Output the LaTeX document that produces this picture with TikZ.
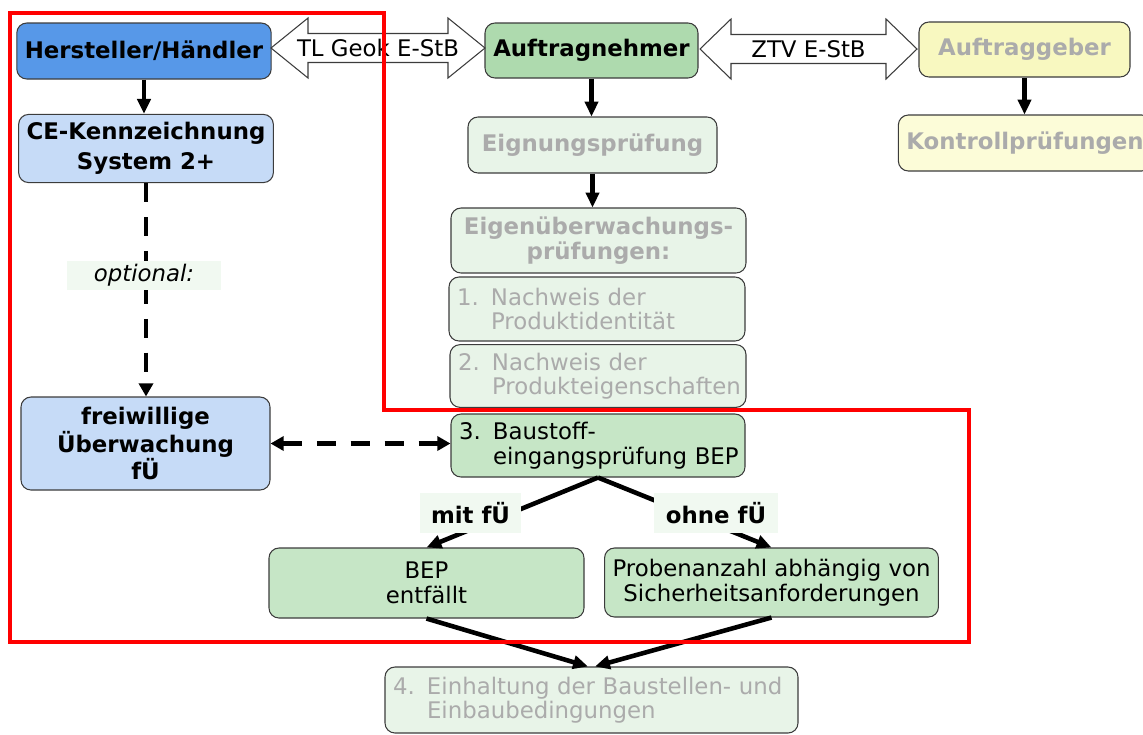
\documentclass[tikz,border=0pt]{standalone}
\usepackage{fontspec}
\setmainfont{DejaVu Sans}
\usetikzlibrary{arrows.meta,calc}
\definecolor{herstellerblau}{HTML}{5798E8}
\definecolor{hellblau}{HTML}{C6DBF7}
\definecolor{gruen}{HTML}{AEDAAE}
\definecolor{mittelgruen}{HTML}{C6E6C6}
\definecolor{blassgruen}{HTML}{E8F4E8}
\definecolor{gelb}{HTML}{F8F8C0}
\definecolor{blassgelb}{HTML}{FCFCD8}
\definecolor{labelgruen}{HTML}{F1F9F1}
\definecolor{grautext}{HTML}{ABABAB}
\definecolor{rahmen}{HTML}{3C3C3C}

\newcommand{\schrift}{\fontsize{13pt}{14pt}\selectfont}
\newcommand{\punkt}[3]{\mbox{\makebox[0.68cm][l]{#1}#2}\\\mbox{\hspace*{0.68cm}#3}}
% Doppelpfeil: Name, Mitte, halbe Laenge, Spitzenlaenge, Text
\newcommand{\doppelpfeil}[5]{%
  \draw[blockpfeil] ($(#2)+(-#3,0)$) -- ++(#4,0.6) -- ++(0,-0.31)
    -- ($(#2)+(#3-#4,0.29)$) -- ++(0,0.31) -- ($(#2)+(#3,0)$)
    -- ++(-#4,-0.6) -- ++(0,0.31) -- ($(#2)+(#4-#3,-0.29)$) -- ++(0,-0.31) -- cycle;
  \node[font=\schrift] (#1) at (#2) {#5};}

\tikzset{
  kasten/.style={draw=rahmen, line width=0.6pt, rounded corners=0.2cm, inner sep=0.16cm, align=center, font=\schrift},
  fett/.style={font=\schrift\bfseries},
  grau/.style={text=grautext},
  marke/.style={fill=labelgruen, inner sep=0pt},
  blockpfeil/.style={draw=rahmen, fill=white, line width=0.6pt},
  pfeil/.style={line width=2.6pt, -{Triangle[width=7.5pt,length=8.5pt]}},
  strichpfeil/.style={line width=2.6pt, dash pattern=on 10.8pt off 8.5pt, -{Triangle[width=8pt,length=7.5pt]}},
  strichdoppel/.style={line width=2.6pt, dash pattern=on 10.8pt off 8.5pt, {Triangle[width=8pt,length=7.5pt]}-{Triangle[width=8pt,length=7.5pt]}},
  rot/.style={draw=red, line width=2.3pt}
}

\begin{document}
\begin{tikzpicture}
\useasboundingbox (0,0) rectangle (22.86,-14.68);
% linke Spalte
\node[kasten, fett, fill=herstellerblau, minimum width=4.96cm, minimum height=1.12cm] (hersteller) at (2.88,-1.02) {Hersteller/Händler};
\node[kasten, fill=hellblau, font=\fontsize{13pt}{17pt}\selectfont\bfseries, minimum width=4.96cm, minimum height=1.30cm] (ce) at (2.92,-2.97) {CE-Kennzeichnung\\System 2+};
\node[kasten, fett, fill=hellblau, minimum width=4.98cm, minimum height=1.86cm] (freiwillig) at (2.91,-8.87) {freiwillige\\Überwachung\\fÜ};
% mittlere Spalte
\node[kasten, fett, fill=gruen, minimum width=4.26cm, minimum height=1.10cm] (auftragnehmer) at (11.83,-1.01) {Auftragnehmer};
\node[kasten, fett, grau, fill=blassgruen, minimum width=4.98cm, minimum height=1.12cm] (eignung) at (11.85,-2.90) {Eignungsprüfung};
\node[kasten, fett, grau, fill=blassgruen, minimum width=5.90cm, minimum height=1.30cm] (eigen) at (11.97,-4.81) {Eigenüberwachungs-\\prüfungen:};
\node[kasten, grau, fill=blassgruen, align=left, text width=5.60cm, minimum height=1.28cm] (nachweisA) at (11.94,-6.18) {\punkt{1.}{Nachweis der}{Produktidentität}};
\node[kasten, grau, fill=blassgruen, align=left, text width=5.60cm, minimum height=1.24cm] (nachweisB) at (11.96,-7.52) {\punkt{2.}{Nachweis der}{Produkteigenschaften}};
\node[kasten, fill=mittelgruen, align=left, text width=5.56cm, minimum height=1.26cm] (bep) at (11.96,-8.91) {\punkt{3.}{Baustoff-}{eingangsprüfung BEP}};
\node[kasten, fill=mittelgruen, minimum width=6.30cm, minimum height=1.40cm] (entfaellt) at (8.53,-11.66) {BEP\\entfällt};
\node[kasten, fill=mittelgruen, minimum width=6.58cm, minimum height=1.38cm] (probe) at (15.43,-11.65) {Probenanzahl abhängig von\\Sicherheitsanforderungen};
\node[kasten, grau, fill=blassgruen, align=left, text width=7.94cm, minimum height=1.32cm] (einhaltung) at (11.83,-14.00) {\punkt{4.}{Einhaltung der Baustellen- und}{Einbaubedingungen}};
% rechte Spalte
\node[kasten, fett, grau, fill=gelb, minimum width=4.22cm, minimum height=1.10cm] (auftraggeber) at (20.49,-0.99) {Auftraggeber};
\node[kasten, fett, grau, fill=blassgelb, minimum width=4.96cm, minimum height=1.12cm] (kontroll) at (20.50,-2.86) {Kontrollprüfungen};
% Doppelpfeile
\doppelpfeil{tlgeok}{7.56,-0.96}{2.14}{0.74}{TL Geok E-StB}
\doppelpfeil{ztv}{16.17,-0.98}{2.17}{0.62}{ZTV E-StB}
% Pfeile
\draw[pfeil] (hersteller.south) -- (hersteller.south |- ce.north);
\draw[pfeil] (auftragnehmer.south) -- (auftragnehmer.south |- eignung.north);
\draw[pfeil] (eignung.south) -- (eignung.south |- eigen.north);
\draw[pfeil] (auftraggeber.south) -- (auftraggeber.south |- kontroll.north);
\draw[strichpfeil] (ce.south) -- (ce.south |- freiwillig.north);
\draw[strichdoppel] (freiwillig.east) -- (freiwillig.east -| bep.west);
\draw[pfeil] (bep.south) -- (entfaellt.north);
\draw[pfeil] (bep.south) -- (probe.north);
\draw[pfeil] (entfaellt.south) -- ($(einhaltung.north)+(-0.07,0)$);
\draw[pfeil] (probe.south) -- ($(einhaltung.north)+(0.07,0)$);
% Beschriftungen
\node[marke, font=\schrift\itshape, minimum width=3.08cm, minimum height=0.58cm] (optional) at (2.88,-5.51) {optional:};
\node[marke, fett, minimum width=2.02cm, minimum height=0.80cm] (mit) at (9.41,-10.26) {mit fÜ};
\node[marke, fett, minimum width=2.48cm, minimum height=0.80cm] (ohne) at (14.32,-10.26) {ohne fÜ};
% roter Rahmen
\draw[rot] (0.20,-0.26) -- (7.68,-0.26) -- (7.68,-8.20) -- (19.38,-8.20) -- (19.38,-12.84) -- (0.20,-12.84) -- cycle;
\end{tikzpicture}
\end{document}
